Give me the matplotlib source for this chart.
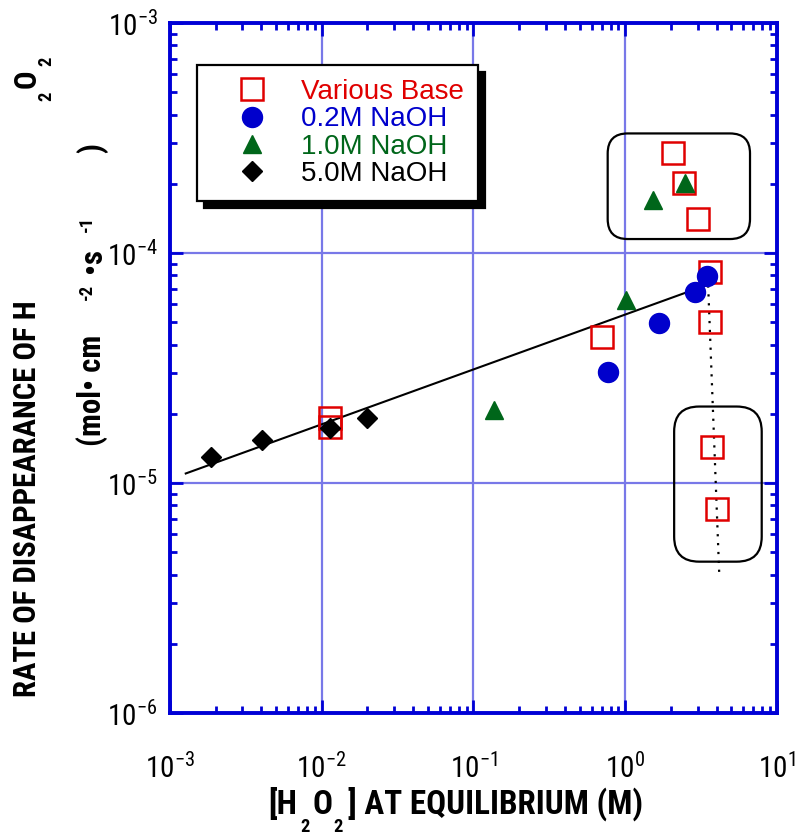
import numpy as np
import matplotlib
matplotlib.use("Agg")
import matplotlib.pyplot as plt
from matplotlib import font_manager as fm
from matplotlib.font_manager import FontProperties
from matplotlib.patches import FancyBboxPatch
from matplotlib.transforms import IdentityTransform
from matplotlib.ticker import LogLocator, FuncFormatter, NullFormatter

# ---------------- data ----------------
various_x = [0.0113, 0.0113, 0.70, 2.07, 2.45, 3.03, 3.62, 3.62, 3.75, 4.01]
various_y = [1.92e-5, 1.75e-5, 4.31e-5, 2.71e-4, 2.02e-4, 1.41e-4, 8.27e-5, 5.01e-5, 1.44e-5, 7.69e-6]

naoh02_x = [0.77, 1.67, 2.88, 3.46]
naoh02_y = [3.04e-5, 4.96e-5, 6.77e-5, 7.94e-5]

naoh10_x = [0.136, 1.01, 1.52, 2.48]
naoh10_y = [2.08e-5, 6.25e-5, 1.70e-4, 2.02e-4]

naoh50_x = [0.00186, 0.00404, 0.0113, 0.0199]
naoh50_y = [1.30e-5, 1.54e-5, 1.73e-5, 1.92e-5]

fit_x = [0.00127, 3.96]
fit_y = [1.10e-5, 7.50e-5]

dot_x = [3.5, 4.17]
dot_y = [7.9e-5, 3.9e-6]

box_top_x = [0.766, 6.64]
box_top_y = [1.15e-4, 3.31e-4]
box_bot_x = [2.10, 7.93]
box_bot_y = [4.55e-6, 2.15e-5]

labels = ["Various Base", "0.2M NaOH", "1.0M NaOH", "5.0M NaOH"]

# ---------------- fonts ----------------
def _w(f):
    w = f.weight
    if isinstance(w, str):
        w = fm.weight_dict.get(w, 400)
    return w


def find_condensed(bold):
    prefs = ["Liberation Sans Narrow", "Roboto Condensed", "Noto Sans",
             "Noto Sans Condensed", "Open Sans", "Open Sans Condensed",
             "DejaVu Sans", "DejaVu Sans Condensed", "Roboto", "Liberation Sans"]
    ents = [f for f in fm.fontManager.ttflist if f.style == "normal"]
    for name in prefs:
        for f in ents:
            if f.name != name:
                continue
            cond = f.stretch in ("condensed", "semi-condensed", "extra-condensed") \
                or "Narrow" in f.name or "Condensed" in f.name
            if not cond:
                continue
            if bold and 600 <= _w(f) <= 800:
                return f
            if not bold and 350 <= _w(f) <= 450:
                return f
    return None


fb = find_condensed(True)
fr = find_condensed(False)
if fb is not None:
    FP_BOLD = FontProperties(fname=fb.fname)
else:
    FP_BOLD = FontProperties(family="Liberation Sans", weight="bold")
if fr is not None:
    FP_REG = FontProperties(fname=fr.fname)
    COND_R = True
else:
    FP_REG = FontProperties(family="Liberation Sans")
    COND_R = False

AXBLUE = "#0000D6"
GRID = "#7878E8"
RED = "#E00000"
BLUE = "#0000CC"
GREEN = "#00661A"

W, H = 804, 836
fig = plt.figure(figsize=(W / 100, H / 100), dpi=100)
L, R, T, B = 170, 777, 23, 713
ax = fig.add_axes([L / W, 1 - B / H, (R - L) / W, (B - T) / H])
ax.set_xscale("log")
ax.set_yscale("log")
ax.set_xlim(1e-3, 1e1)
ax.set_ylim(1e-6, 1e-3)
ax.set_autoscale_on(False)

ax.grid(True, which="major", color=GRID, lw=1.6)
ax.set_axisbelow(True)
for s in ax.spines.values():
    s.set_color(AXBLUE)
    s.set_linewidth(2.8)

fmt = FuncFormatter(lambda v, p: r"$\mathdefault{10^{%d}}$" % int(round(np.log10(v))))
for axis in (ax.xaxis, ax.yaxis):
    axis.set_major_locator(LogLocator(base=10, numticks=12))
    axis.set_minor_locator(LogLocator(base=10, subs=np.arange(2, 10), numticks=40))
    axis.set_major_formatter(fmt)
    axis.set_minor_formatter(NullFormatter())

ax.tick_params(which="both", direction="in", top=True, right=True,
               color=AXBLUE, width=2, labelcolor="black")
ax.tick_params(which="major", length=9.5)
ax.tick_params(which="minor", length=5)
ax.tick_params(axis="x", which="major", pad=29)
ax.tick_params(axis="y", which="major", pad=9)
tick_size = 21 if COND_R else 19.5
fig.canvas.draw()
for lab in ax.get_xticklabels() + ax.get_yticklabels():
    lab.set_fontproperties(FP_REG)
    lab.set_fontsize(tick_size)

# ---------------- data marks ----------------
ax.plot(fit_x, fit_y, color="black", lw=1.5, zorder=3)
ax.plot(dot_x, dot_y, color="black", lw=1.6, linestyle=(0, (1, 3)), zorder=3)
ax.plot(various_x, various_y, ls="none", marker="s", ms=15.5, mfc="none",
        mec=RED, mew=1.8, zorder=4, label=labels[0])
ax.plot(naoh02_x, naoh02_y, ls="none", marker="o", ms=14.4, color=BLUE,
        mec=BLUE, zorder=5, label=labels[1])
ax.plot(naoh10_x, naoh10_y, ls="none", marker="^", ms=13.5, color=GREEN,
        mec=GREEN, zorder=5, label=labels[2])
ax.plot(naoh50_x, naoh50_y, ls="none", marker="D", ms=10.5, color="black",
        mec="black", zorder=5, label=labels[3])

leg = ax.legend(loc="upper left", bbox_to_anchor=(0.0445, 0.939), borderaxespad=0,
                prop={"family": "Liberation Sans", "size": 20}, borderpad=0.5,
                handlelength=2.95, handletextpad=0.3, labelspacing=0.05,
                frameon=True, fancybox=False, framealpha=1, edgecolor="black",
                shadow={"ox": 5, "oy": -5, "color": "black", "alpha": 1},
                numpoints=1)
leg.get_frame().set_linewidth(1.6)
for t, c in zip(leg.get_texts(), [RED, BLUE, GREEN, "black"]):
    t.set_color(c)


def rounded(xs, ys, r):
    (x0, y0), (x1, y1) = ax.transData.transform([(xs[0], ys[0]), (xs[1], ys[1])])
    p = FancyBboxPatch((x0, y0), x1 - x0, y1 - y0,
                       boxstyle=f"round,pad=0,rounding_size={r}",
                       transform=IdentityTransform(), fc="none", ec="black",
                       lw=1.6, clip_on=False, zorder=3)
    ax.add_artist(p)


rounded(box_top_x, box_top_y, 20)
rounded(box_bot_x, box_bot_y, 25)

# ---------------- axis titles (pieces) ----------------
renderer = fig.canvas.get_renderer()


def put(s, x, y, size, rot=0, fit=None, ha="left"):
    t = fig.text(x / W, 1 - y / H, s, fontproperties=FP_BOLD, rotation=rot,
                 rotation_mode="anchor", ha=ha, va="baseline", color="black")
    t.set_fontsize(size)
    if fit:
        bb = t.get_window_extent(renderer)
        ln = bb.height if rot else bb.width
        t.set_fontsize(size * fit / ln)
    return t


# x label
main = put("] AT EQUILIBRIUM (M)", 348, 814, 22, fit=294)
fsx = main.get_fontsize()
put("[H", 268, 814, fsx)
put("O", 313, 814, fsx)
put("2", 300, 832, fsx * 0.56)
put("2", 333, 832, fsx * 0.56)

# y label line 1
l1 = put("RATE OF DISAPPEARANCE OF H", 36, 697, 20, rot=90, fit=397)
fsy = l1.get_fontsize()
put("O", 36, 88, fsy, rot=90)
put("2", 51, 101, fsy * 0.6, rot=90)
put("2", 51, 66, fsy * 0.6, rot=90)

# y label line 2
put("(mol\u2022 cm", 101, 335, fsy, rot=90, ha="right")
put("-2", 92, 300, fsy * 0.6, rot=90)
put("\u2022s", 101, 273, fsy, rot=90)
put("-1", 92, 232, fsy * 0.6, rot=90)
put(")", 101, 153, fsy, rot=90)

fig.savefig("out.png", dpi=100)
